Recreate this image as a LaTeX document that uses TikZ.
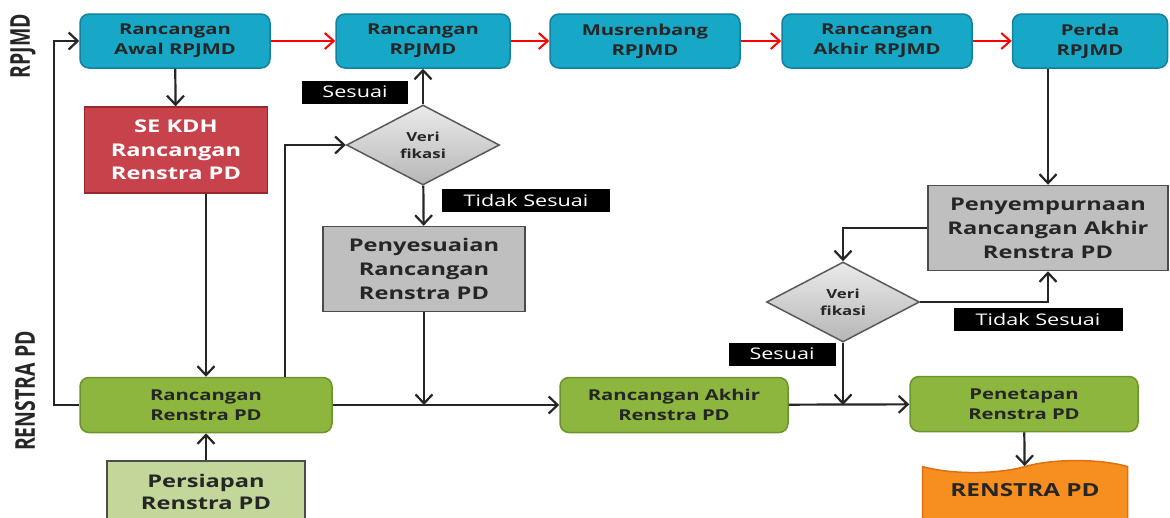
\documentclass[tikz,border=0pt]{standalone}
\usepackage{fontspec}
\setmainfont{Open Sans}[FakeStretch=1.35]
\newfontfamily\sidefont{Open Sans}
\usepackage{tikz}
\usepackage{xcolor}
\usetikzlibrary{arrows.meta, shapes.geometric, shapes.symbols, calc, positioning}

\definecolor{rpjmd}{RGB}{22,168,198}
\definecolor{rpjmdline}{RGB}{18,128,158}
\definecolor{sekdh}{RGB}{200,66,76}
\definecolor{sekdhline}{RGB}{150,40,48}
\definecolor{renstra}{RGB}{141,182,62}
\definecolor{renstraline}{RGB}{108,148,44}
\definecolor{prep}{RGB}{196,215,155}
\definecolor{adjust}{RGB}{191,191,191}
\definecolor{decide}{RGB}{214,214,214}
\definecolor{final}{RGB}{247,142,32}
\definecolor{finalline}{RGB}{222,112,18}

\tikzset{
  arr/.style={-{Straight Barb[length=9pt,width=17pt]}, line width=2.2pt, black!85},
  redarr/.style={-{Straight Barb[length=9pt,width=16pt]}, line width=2pt, red},
  topbox/.style={draw=rpjmdline, line width=1.5pt, fill=rpjmd, rounded corners=9pt,
    minimum height=54pt, align=center, text=black!85,
    font=\bfseries\fontsize{15}{20}\selectfont},
  greenbox/.style={draw=renstraline, line width=1.5pt, fill=renstra, rounded corners=9pt,
    minimum height=55pt, align=center, text=black!85,
    font=\bfseries\fontsize{15}{20}\selectfont},
  graybox/.style={draw=black!70, line width=1.5pt, fill=adjust, align=center, text=black!85,
    minimum height=85pt, font=\bfseries\fontsize{17.5}{24}\selectfont},
  verif/.style={diamond, draw=black!65, line width=1.5pt, top color=white!92!black,
    bottom color=decide!85!black, aspect=1.9,
    minimum width=153pt, minimum height=80pt, inner sep=0pt, align=center, text=black!85,
    font=\bfseries\fontsize{12.5}{17}\selectfont},
  tag/.style={fill=black, text=white, inner sep=0pt, minimum height=23pt,
    font=\fontsize{16}{16}\selectfont},
  side/.style={rotate=90, text=black!85, font=\sidefont\bfseries\fontsize{19.5}{20}\selectfont}
}

\begin{document}
\begin{tikzpicture}[x=1pt, y=-1pt]
\useasboundingbox (0,0) rectangle (1170,517);
\clip (0,0) rectangle (1170,517);

% lane titles
\node[side] (lanetop) at (23,46) {\scalebox{1}[1.4]{RPJMD}};
\node[side] (lanebot) at (25,391) {\scalebox{1}[1.4]{RENSTRA PD}};

% RPJMD row
\node[topbox, minimum width=190pt] (b1) at (175,41) {Rancangan\\Awal RPJMD};
\node[topbox, minimum width=174pt] (b2) at (423,41) {Rancangan\\RPJMD};
\node[topbox, minimum width=190pt] (b3) at (645,41) {Musrenbang\\RPJMD};
\node[topbox, minimum width=190pt] (b4) at (877,41) {Rancangan\\Akhir RPJMD};
\node[topbox, minimum width=155pt] (b5) at (1090,41) {Perda\\RPJMD};

\node[draw=sekdhline, line width=1.5pt, fill=sekdh, minimum width=183pt, minimum height=86pt,
  align=center, text=white, font=\bfseries\fontsize{17.5}{23.5}\selectfont] (se) at (176,150)
  {SE KDH\\Rancangan\\Renstra PD};

\node[verif] (v1) at (423,145) {Veri\\fikasi};
\node[graybox, minimum width=202pt] (adj) at (424,269) {Penyesuaian\\Rancangan\\Renstra PD};

\node[graybox, minimum width=240pt] (imp) at (1048,228) {Penyempurnaan\\Rancangan Akhir\\Renstra PD};
\node[verif] (v2) at (843,302) {Veri\\fikasi};

% RENSTRA PD row
\node[greenbox, minimum width=252pt] (r1) at (206,405) {Rancangan\\Renstra PD};
\node[greenbox, minimum width=228pt] (r2) at (674,405) {Rancangan Akhir\\Renstra PD};
\node[greenbox, minimum width=228pt] (set) at (1024,404) {Penetapan\\Renstra PD};

\node[draw=black!70, line width=1.5pt, fill=prep, minimum width=198pt, minimum height=80pt,
  anchor=north, align=center, text=black!85, font=\bfseries\fontsize{17.5}{22}\selectfont,
  text depth=18pt] (pre) at (206,460) {Persiapan\\Renstra PD};

\node[tape, draw=finalline, line width=1.5pt, fill=final, minimum width=205pt, minimum height=80pt,
  tape bend top=in and out, tape bend bottom=in and out, tape bend height=12pt,
  anchor=north, text=black!85, font=\bfseries\fontsize{18}{20}\selectfont,
  text depth=22pt] (doc) at (1025,466) {RENSTRA PD};

% tags
\node[tag, minimum width=106pt] (ok1) at (355,92) {Sesuai};
\node[tag, minimum width=168pt] (no1) at (526,200) {Tidak Sesuai};
\node[tag, minimum width=107pt] (ok2) at (782,354) {Sesuai};
\node[tag, minimum width=169pt] (no2) at (1038,319) {Tidak Sesuai};

% connectors
\draw[redarr] (b1) -- (b2);
\draw[redarr] (b2) -- (b3);
\draw[redarr] (b3) -- (b4);
\draw[redarr] (b4) -- (b5);

\draw[arr] (b1) -- (se);
\draw[arr] (se.south -| r1) -- (r1);
\draw[arr] (r1.west) -- ++(-25,0) |- (b1.west);
\draw[arr] ([xshift=79pt]r1.north) |- (v1.west);
\draw[arr] (pre) -- (r1);
\draw[arr] (v1) -- (b2);
\draw[arr] (v1) -- (adj);
\draw[arr] (adj) -- (adj |- r1);
\draw[arr] (r1) -- (r2);
\draw[arr] (r2) -- (set);
\draw[arr] (b5.south -| imp) -- (imp);
\draw[arr] (imp.west) -| (v2.north);
\draw[arr] (v2.east) -| (imp.south);
\draw[arr] (v2) -- (v2 |- r2);
\draw[arr] (set) -- (doc);
\end{tikzpicture}
\end{document}
